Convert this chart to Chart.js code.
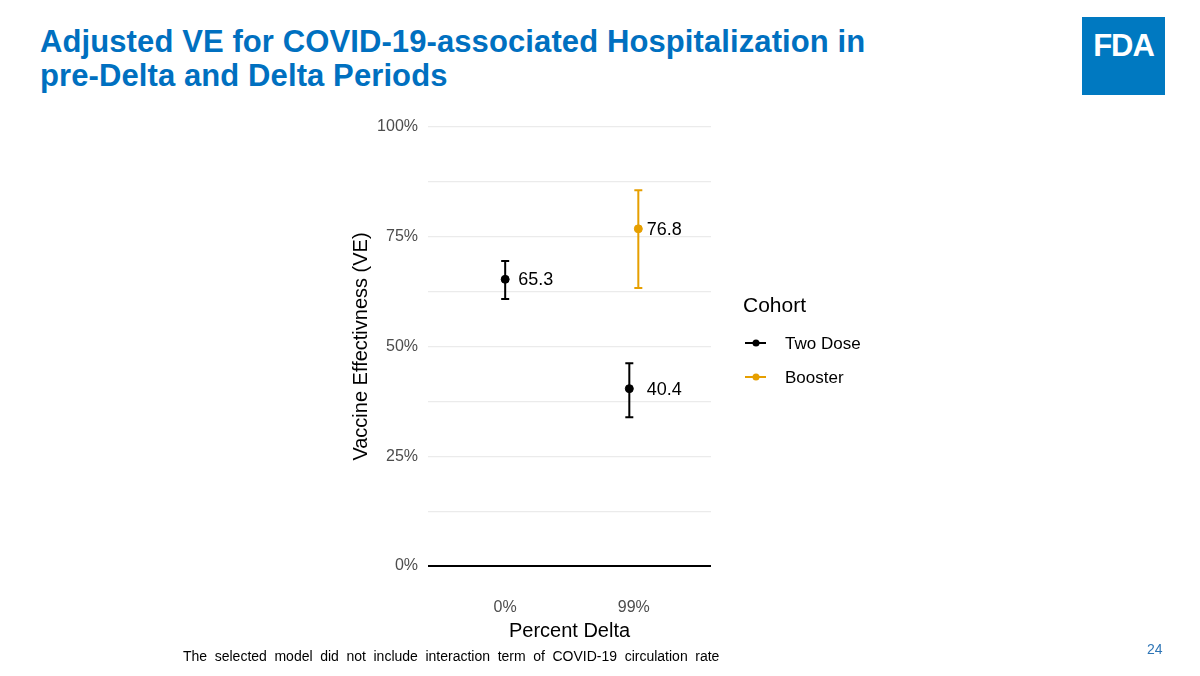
<!DOCTYPE html>
<html>
<head>
<meta charset="utf-8">
<script src="https://cdn.jsdelivr.net/npm/chart.js@4.4.1/dist/chart.umd.min.js"></script>
<style>
  html, body { margin: 0; padding: 0; background: #fff; }
  body { width: 1200px; height: 676px; position: relative; overflow: hidden; font-family: "Liberation Sans", Arial, sans-serif; }
  #title { position: absolute; left: 40px; top: 25px; color: #0070C0; font-weight: bold; font-size: 31px; line-height: 34px; letter-spacing: 0.1px; }
  #logo { position: absolute; left: 1082px; top: 17px; width: 83px; height: 78px; background: #0079C1; color: #fff; font-weight: bold; font-size: 31px; text-align: center; line-height: 58px; letter-spacing: -1px; }
  #note { position: absolute; left: 183px; top: 648px; font-size: 14px; word-spacing: 3.7px; color: #000; }
  #page { position: absolute; left: 1147px; top: 641px; font-size: 14px; color: #2E75B6; }
  #chart { position: absolute; left: 0; top: 0; }
</style>
</head>
<body>
<div id="title">Adjusted VE for COVID-19-associated Hospitalization in<br>pre-Delta and Delta Periods</div>
<div id="logo">FDA</div>
<canvas id="chart" width="1200" height="676"></canvas>
<div id="note">The selected model did not include interaction term of COVID-19 circulation rate</div>
<div id="page">24</div>
<script>
// categories (Percent Delta) and VE estimates with 95% CI
const categories = ["0%", "99%"];
const cohorts = ["Two Dose", "Booster"];
const cohortColors = ["#000000", "#E69F00"];
const twoDoseVE   = [65.3, 40.4];
const twoDoseLow  = [60.8, 33.9];
const twoDoseHigh = [69.5, 46.2];
const boosterVE   = [null, 76.8];
const boosterLow  = [null, 63.3];
const boosterHigh = [null, 85.6];
const yTickLabels = [0, 25, 50, 75, 100];
const yGridValues = [0, 12.5, 25, 37.5, 50, 62.5, 75, 87.5, 100];

const DODGE = 0.035;
const series = [
  { ve: twoDoseVE, lo: twoDoseLow, hi: twoDoseHigh },
  { ve: boosterVE, lo: boosterLow, hi: boosterHigh }
];

// x position per point: category index (1-based) dodged when both cohorts present
const xFor = (s, i) => {
  const both = series.every(r => r.ve[i] != null);
  if (!both) return i + 1;
  return i + 1 + (s === 0 ? -DODGE : DODGE);
};

const datasets = series.map((s, si) => ({
  label: cohorts[si],
  data: s.ve.map((v, i) => v == null ? null : { x: xFor(si, i), y: v, lo: s.lo[i], hi: s.hi[i], cat: i + 1 }).filter(Boolean),
  backgroundColor: cohortColors[si],
  borderColor: cohortColors[si],
  pointRadius: 4,
  pointHoverRadius: 4,
  showLine: false
}));

// error bars + value labels + legend
const extras = {
  id: "extras",
  beforeDatasetsDraw(chart) {
    const { ctx, scales: { x, y } } = chart;
    ctx.save();
    chart.data.datasets.forEach(ds => {
      ctx.strokeStyle = ds.borderColor;
      ctx.lineWidth = 2;
      ds.data.forEach(p => {
        const px = x.getPixelForValue(p.x);
        const yl = y.getPixelForValue(p.lo), yh = y.getPixelForValue(p.hi);
        ctx.beginPath();
        ctx.moveTo(px, yl); ctx.lineTo(px, yh);
        ctx.moveTo(px - 4, yl); ctx.lineTo(px + 4, yl);
        ctx.moveTo(px - 4, yh); ctx.lineTo(px + 4, yh);
        ctx.stroke();
      });
    });
    ctx.restore();
  },
  afterDatasetsDraw(chart) {
    const { ctx, scales: { x, y }, chartArea } = chart;
    ctx.save();
    ctx.fillStyle = "#000";
    ctx.font = "18px 'Liberation Sans', Arial, sans-serif";
    ctx.textBaseline = "middle";
    chart.data.datasets.forEach(ds => {
      ds.data.forEach(p => {
        ctx.fillText(p.y.toFixed(1), x.getPixelForValue(p.cat) + 13, y.getPixelForValue(p.y) + 1);
      });
    });
    // legend
    const lx = chartArea.right + 32;
    ctx.font = "21px 'Liberation Sans', Arial, sans-serif";
    ctx.fillText("Cohort", lx, 306);
    ctx.font = "17px 'Liberation Sans', Arial, sans-serif";
    chart.data.datasets.forEach((ds, i) => {
      const ly = 343 + i * 34;
      ctx.strokeStyle = ds.borderColor;
      ctx.fillStyle = ds.borderColor;
      ctx.lineWidth = 2;
      ctx.beginPath(); ctx.moveTo(lx + 2, ly); ctx.lineTo(lx + 23, ly); ctx.stroke();
      ctx.beginPath(); ctx.arc(lx + 13, ly, 3.5, 0, Math.PI * 2); ctx.fill();
      ctx.fillStyle = "#000";
      ctx.fillText(ds.label, lx + 42, ly + 1);
    });
    ctx.restore();
  }
};

new Chart(document.getElementById("chart"), {
  type: "scatter",
  data: { datasets },
  options: {
    responsive: false,
    animation: false,
    layout: { padding: { left: 346, right: 489, top: 105, bottom: 33 } },
    plugins: { legend: { display: false }, tooltip: { enabled: false } },
    scales: {
      x: {
        type: "linear",
        min: 0.4, max: 2.6,
        afterBuildTicks: s => { s.ticks = categories.map((c, i) => ({ value: i + 1 })); },
        afterFit: s => { s.height = 55; },
        ticks: {
          callback: v => categories[v - 1] ?? "",
          color: "#4D4D4D",
          font: { size: 16, family: "'Liberation Sans', Arial, sans-serif" },
          padding: 2
        },
        grid: { display: false },
        border: { display: false },
        title: {
          display: true, text: "Percent Delta", color: "#000",
          font: { size: 20, family: "'Liberation Sans', Arial, sans-serif" },
          padding: { top: 4, bottom: 0 }
        }
      },
      y: {
        min: -5, max: 105,
        afterBuildTicks: s => { s.ticks = yGridValues.map(v => ({ value: v })); },
        afterFit: s => { s.width = 82; },
        ticks: {
          callback: v => yTickLabels.includes(v) ? v + "%" : "",
          color: "#4D4D4D",
          font: { size: 16, family: "'Liberation Sans', Arial, sans-serif" },
          padding: 10,
          autoSkip: false
        },
        grid: {
          drawTicks: false,
          color: c => c.tick && c.tick.value === 0 ? "#000" : "#EBEBEB",
          lineWidth: c => c.tick && c.tick.value === 0 ? 2 : 1.2
        },
        border: { display: false },
        title: {
          display: true, text: "Vaccine Effectivness (VE)", color: "#000",
          font: { size: 20, family: "'Liberation Sans', Arial, sans-serif" },
          padding: { top: 3, bottom: 2 }
        }
      }
    }
  },
  plugins: [extras]
});
</script>
</body>
</html>
